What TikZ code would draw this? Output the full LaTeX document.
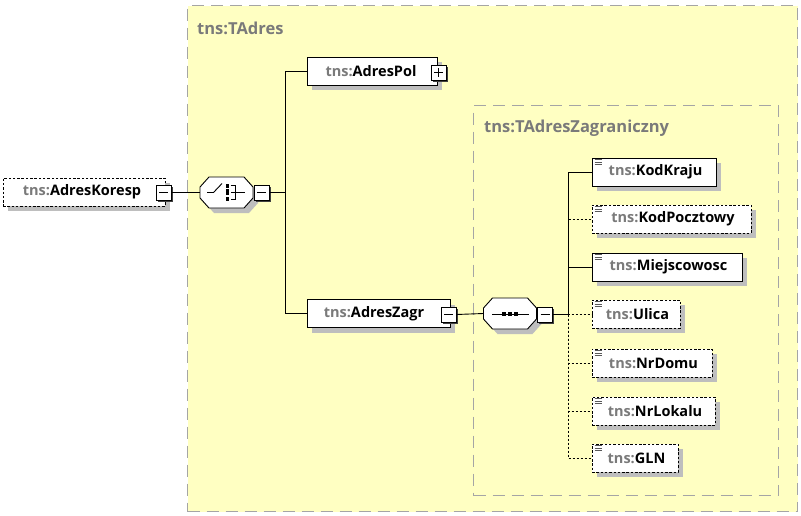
\documentclass[tikz,border=0pt]{standalone}
\usepackage{fontspec}
\setmainfont{Open Sans}
\usetikzlibrary{shadows}
\definecolor{bgyellow}{RGB}{255,255,194}
\definecolor{tnsgray}{RGB}{122,122,122}
\definecolor{shadowgray}{RGB}{190,190,190}
\definecolor{framegray}{RGB}{165,165,165}
\newcommand{\tnslbl}[1]{\textbf{{\color{tnsgray}tns:}#1}}
\tikzset{
  groupbox/.style={draw=framegray, fill=bgyellow, line width=1.3pt, dash pattern=on 12pt off 7pt, inner sep=0, anchor=north west},
  grouptitle/.style={text=tnsgray, font=\fontsize{16.5}{18}\selectfont\bfseries, anchor=west, inner sep=0},
  elembase/.style={fill=white, line width=0.9pt, minimum height=28, inner sep=0, font=\fontsize{14.5}{17}\selectfont,
    drop shadow={fill=shadowgray, opacity=1, shadow xshift=5pt, shadow yshift=-5pt}},
  elem/.style={elembase, draw=black},
  optelem/.style={elembase, draw=black, dash pattern=on 2.5pt off 1.8pt},
  pmbase/.style={draw=black, fill=white, line width=0.9pt, minimum size=15, inner sep=0,
    drop shadow={fill=black!75, opacity=1, shadow xshift=1.5pt, shadow yshift=-1.5pt}},
  minusbox/.style={pmbase, path picture={\draw[line width=0.9pt] ([xshift=3pt]path picture bounding box.west) -- ([xshift=-3pt]path picture bounding box.east);}},
  plusbox/.style={pmbase, path picture={\draw[line width=0.9pt] ([xshift=3pt]path picture bounding box.west) -- ([xshift=-3pt]path picture bounding box.east);
      \draw[line width=0.9pt] ([yshift=-3pt]path picture bounding box.north) -- ([yshift=3pt]path picture bounding box.south);}},
  compnode/.style={inner sep=0, minimum width=53, minimum height=31},
  compline/.style={draw=black, fill=white, line width=0.9pt},
  conn/.style={draw=black, line width=0.9pt},
  optconn/.style={draw=black, line width=0.9pt, dash pattern=on 2pt off 2pt},
  typeicon/.style={draw=black!65, line width=0.8pt},
  dot/.style={fill=black, draw=none}
}
% chamfered compositor outline: #1 = centre x, #2 = centre y
\newcommand{\compshape}[2]{%
  \fill[shadowgray] (#1-26.5+9+5,#2-15.5+5) -- (#1+26.5-9+5,#2-15.5+5) -- (#1+26.5+5,#2-15.5+10+5) -- (#1+26.5+5,#2+15.5-10+5)
     -- (#1+26.5-9+5,#2+15.5+5) -- (#1-26.5+9+5,#2+15.5+5) -- (#1-26.5+5,#2+15.5-10+5) -- (#1-26.5+5,#2-15.5+10+5) -- cycle;
  \path[compline] (#1-26.5+9,#2-15.5) -- (#1+26.5-9,#2-15.5) -- (#1+26.5,#2-15.5+10) -- (#1+26.5,#2+15.5-10)
     -- (#1+26.5-9,#2+15.5) -- (#1-26.5+9,#2+15.5) -- (#1-26.5,#2+15.5-10) -- (#1-26.5,#2-15.5+10) -- cycle;}
\begin{document}
\begin{tikzpicture}[x=1pt,y=-1pt]
\useasboundingbox (0,0) rectangle (801,515);
\fill[white] (0,0) rectangle (801,515);

% outer group
\node (tadres) [groupbox, minimum width=610, minimum height=506] at (187,5) {};
\node (tadrestitle) [grouptitle] at (197,28) {tns:TAdres};

% inner group
\node (tzagr) [groupbox, minimum width=305, minimum height=390] at (473,105) {};
\node (tzagrtitle) [grouptitle] at (484,128) {tns:TAdresZagraniczny};

% root element
\node (koresp) [optelem, minimum width=162] at (84,192) {\tnslbl{AdresKoresp}\hspace*{4pt}};
\node (korespm) [minusbox] at (163.5,192.5) {};

% choice compositor
\compshape{226.5}{192.5}
\node (choice) [compnode] at (226.5,192.5) {};
\node (choicem) [minusbox] at (261.5,192.5) {};
\draw[conn] (207,192.5) -- (213.5,192.5) -- (222,183.5);
\fill[dot] (225.5,183.5) rectangle (228.5,187.5);
\fill[dot] (225.5,189) rectangle (228.5,195);
\fill[dot] (225.5,197) rectangle (228.5,201);
\draw[conn, line width=0.8pt] (230.5,185) -- (235,185) -- (235,199.5) -- (230.5,199.5);
\draw[conn, line width=0.8pt] (231,192.5) -- (245,192.5);

% AdresPol
\node (adrespol) [elem, minimum width=130] at (372,71) {\tnslbl{AdresPol}\hspace*{2pt}};
\node (adrespolp) [plusbox] at (438.5,72.5) {};

% AdresZagr
\node (adreszagr) [elem, minimum width=143] at (378.5,313.5) {\tnslbl{AdresZagr}\hspace*{9pt}};
\node (adreszagrm) [minusbox] at (448.5,314.5) {};

% sequence compositor
\compshape{510}{313.5}
\node (seq) [compnode] at (510,313.5) {};
\node (seqm) [minusbox] at (545,314.5) {};
\draw[conn] (492,314) -- (529,314);
\fill[dot] (502,312) rectangle (506,316);
\fill[dot] (508,312) rectangle (512,316);
\fill[dot] (514,312) rectangle (518,316);

% junctions
\coordinate (j1) at (285,192.5);
\coordinate (j2) at (568,314.5);

\draw[conn] (korespm.east) -- (choice.west);
\draw[conn] (choicem.east) -- (j1);
\draw[conn] (j1) |- (adrespol.west);
\draw[conn] (j1) |- (adreszagr.west);
\draw[conn] (adreszagrm.east) -- (seq.west);
\draw[conn] (seqm.east) -- (j2);

% children
\foreach \nm/\lab/\yc/\bw/\st in {
  kodkraju/KodKraju/172/124/elem,
  kodpocz/KodPocztowy/219/159/optelem,
  miejsc/Miejscowosc/267/150/elem,
  ulica/Ulica/314/88/optelem,
  nrdomu/NrDomu/363/120/optelem,
  nrlokalu/NrLokalu/411/123/optelem,
  gln/GLN/458/86/optelem}{
  \node (\nm) [\st, minimum width=\bw] at (592+\bw/2,\yc) {\hspace*{3pt}\tnslbl{\lab}};
  \draw[typeicon] (594.5,\yc-12.5) -- (601.5,\yc-12.5);
  \draw[typeicon] (594.5,\yc-10) -- (601.5,\yc-10);
  \draw[typeicon] (594.5,\yc-7.5) -- (601.5,\yc-7.5);
}

\draw[optconn] (j2) |- (kodpocz.west);
\draw[optconn] (j2) |- (ulica.west);
\draw[optconn] (j2) |- (nrdomu.west);
\draw[optconn] (j2) |- (nrlokalu.west);
\draw[optconn] (j2) |- (gln.west);
\draw[conn] (j2) |- (kodkraju.west);
\draw[conn] (j2) |- (miejsc.west);
\end{tikzpicture}
\end{document}
